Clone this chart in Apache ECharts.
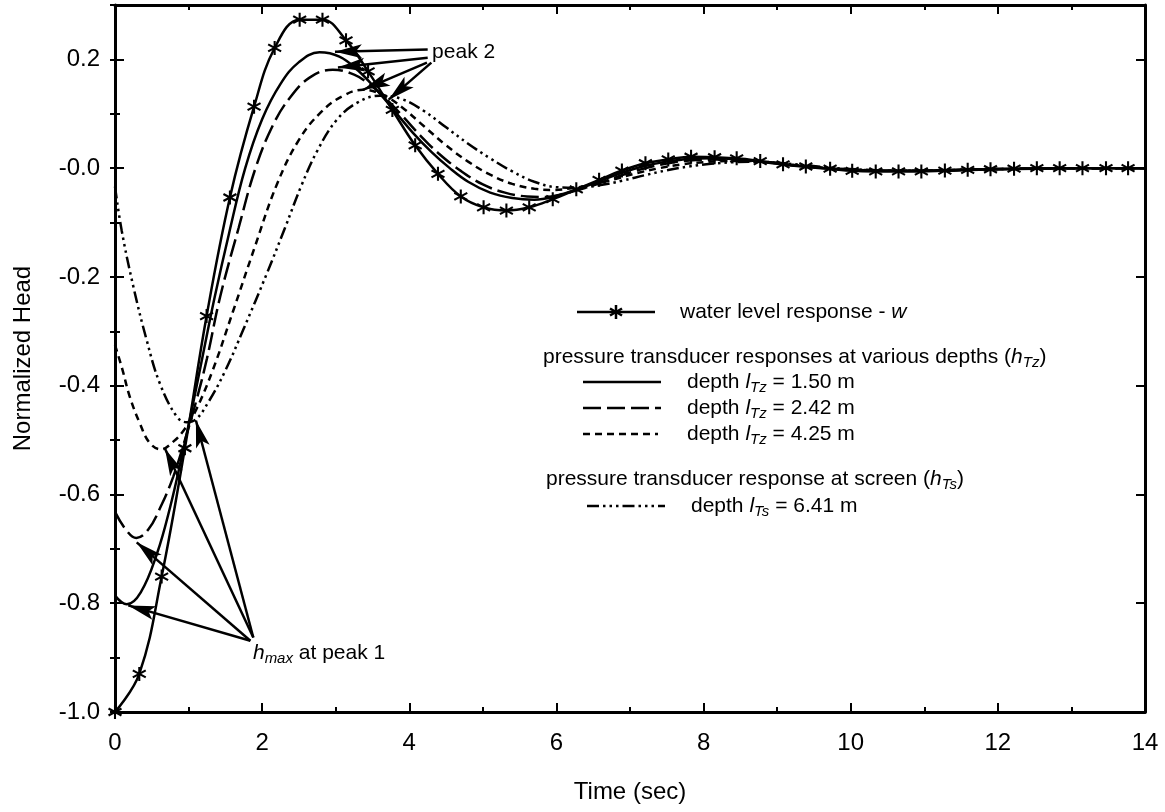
<!DOCTYPE html>
<html>
<head>
<meta charset="utf-8">
<title>Normalized Head vs Time</title>
<script src="https://cdn.jsdelivr.net/npm/echarts@6/dist/echarts.min.js"></script>
<style>
html, body { margin: 0; padding: 0; background: #fff; }
#chart { width: 1165px; height: 812px; }
</style>
</head>
<body>
<div id="chart"></div>
<script>
// water level response w (asterisk markers; the last point only carries the line to the frame)
var wTime = [0, 0.33, 0.634, 0.95, 1.245, 1.562, 1.89, 2.17, 2.51, 2.82, 3.14, 3.44, 3.77, 4.08, 4.39, 4.70, 5.01, 5.32, 5.63, 5.95, 6.27, 6.58, 6.89, 7.21, 7.52, 7.83, 8.15, 8.45, 8.77, 9.08, 9.39, 9.72, 10.02, 10.34, 10.65, 10.96, 11.28, 11.59, 11.90, 12.22, 12.53, 12.84, 13.15, 13.47, 13.77, 14.0];
var wHead = [-1.0, -0.930, -0.751, -0.515, -0.272, -0.054, 0.113, 0.221, 0.273, 0.273, 0.235, 0.178, 0.107, 0.042, -0.0105, -0.052, -0.072, -0.078, -0.072, -0.057, -0.039, -0.0215, -0.0044, 0.009, 0.016, 0.021, 0.020, 0.018, 0.013, 0.007, 0.003, -0.001, -0.005, -0.006, -0.006, -0.006, -0.0044, -0.003, -0.002, -0.001, 0, 0, 0, 0, 0, 0];

// transducer, depth 1.50 m (solid)
var p150Time = [0, 0.16, 0.35, 0.57, 0.75, 0.9, 1.05, 1.2, 1.35, 1.55, 1.77, 2.0, 2.25, 2.5, 2.78, 3.05, 3.3, 3.55, 3.8, 4.05, 4.3, 4.55, 4.8, 5.1, 5.4, 5.7, 6.0, 6.3, 6.6, 6.9, 7.2, 7.5, 7.8, 8.1, 8.4, 8.7, 9.0, 9.4, 9.8, 10.2, 10.6, 11.0, 11.5, 12.0, 12.5, 13.0, 14.0];
var p150Head = [-0.786, -0.802, -0.78, -0.709, -0.623, -0.535, -0.44, -0.34, -0.24, -0.12, 0.0, 0.09, 0.155, 0.195, 0.213, 0.205, 0.18, 0.145, 0.105, 0.065, 0.03, 0.0, -0.025, -0.045, -0.055, -0.058, -0.051, -0.038, -0.023, -0.008, 0.004, 0.012, 0.017, 0.018, 0.017, 0.013, 0.008, 0.002, -0.002, -0.004, -0.005, -0.005, -0.004, -0.002, -0.001, 0.0, 0.0];

// transducer, depth 2.42 m (long dash)
var p242Time = [0, 0.15, 0.29, 0.45, 0.63, 0.79, 0.95, 1.1, 1.25, 1.43, 1.68, 1.91, 2.15, 2.38, 2.65, 2.96, 3.25, 3.45, 3.64, 3.9, 4.15, 4.4, 4.7, 5.0, 5.3, 5.6, 5.85, 6.1, 6.4, 6.7, 7.0, 7.3, 7.6, 7.9, 8.3, 8.7, 9.0, 9.4, 9.8, 10.2, 10.7, 11.2, 11.8, 12.5, 13.0, 14.0];
var p242Head = [-0.632, -0.665, -0.680, -0.665, -0.62, -0.568, -0.50, -0.43, -0.35, -0.236, -0.11, 0.0, 0.08, 0.13, 0.167, 0.181, 0.172, 0.155, 0.133, 0.097, 0.06, 0.027, -0.005, -0.03, -0.045, -0.052, -0.053, -0.047, -0.036, -0.022, -0.008, 0.003, 0.011, 0.015, 0.016, 0.013, 0.009, 0.003, -0.001, -0.004, -0.005, -0.004, -0.002, -0.001, 0, 0];

// transducer, depth 4.25 m (short dash)
var p425Time = [0, 0.1, 0.2, 0.34, 0.47, 0.62, 0.8, 0.95, 1.1, 1.33, 1.6, 1.9, 2.2, 2.5, 2.8, 3.1, 3.37, 3.64, 3.9, 4.2, 4.5, 4.8, 5.1, 5.4, 5.7, 5.95, 6.2, 6.5, 6.8, 7.1, 7.4, 7.7, 8.0, 8.3, 8.6, 8.9, 9.3, 9.7, 10.1, 10.6, 11.2, 11.8, 12.5, 13.0, 14.0];
var p425Head = [-0.325, -0.37, -0.42, -0.47, -0.505, -0.517, -0.502, -0.479, -0.445, -0.371, -0.265, -0.145, -0.03, 0.052, 0.103, 0.133, 0.144, 0.135, 0.112, 0.077, 0.042, 0.012, -0.012, -0.029, -0.038, -0.040, -0.037, -0.030, -0.020, -0.009, 0.0, 0.007, 0.011, 0.013, 0.013, 0.011, 0.005, 0.0, -0.003, -0.005, -0.004, -0.002, -0.001, 0, 0];

// transducer at screen, depth 6.41 m (dash-dot-dot-dot)
var p641Time = [0, 0.09, 0.25, 0.43, 0.61, 0.84, 0.97, 1.1, 1.27, 1.49, 1.75, 2.06, 2.31, 2.54, 2.75, 3.01, 3.3, 3.6, 3.9, 4.2, 4.5, 4.8, 5.1, 5.4, 5.7, 6.0, 6.3, 6.6, 6.9, 7.2, 7.5, 7.8, 8.1, 8.4, 8.7, 9.0, 9.4, 9.8, 10.2, 10.7, 11.2, 11.8, 12.5, 13.0, 14.0];
var p641Head = [-0.034, -0.114, -0.218, -0.316, -0.396, -0.457, -0.467, -0.462, -0.43, -0.375, -0.295, -0.195, -0.11, -0.03, 0.032, 0.088, 0.121, 0.133, 0.127, 0.105, 0.075, 0.045, 0.018, -0.006, -0.025, -0.035, -0.036, -0.031, -0.023, -0.013, -0.004, 0.003, 0.008, 0.011, 0.012, 0.010, 0.005, 0.0, -0.003, -0.005, -0.004, -0.002, -0.001, 0, 0];

// tick labels
var xTickLabels = ['0', '2', '4', '6', '8', '10', '12', '14'];
var yTickLabels = ['-1.0', '-0.8', '-0.6', '-0.4', '-0.2', '-0.0', '0.2'];

// annotation arrows: [from, to] in data units
var peak2Arrows = [
  [[4.25, 0.218], [2.99, 0.214]],
  [[4.25, 0.203], [3.03, 0.185]],
  [[4.24, 0.194], [3.37, 0.144]],
  [[4.30, 0.194], [3.72, 0.126]]
];
var peak1Arrows = [
  [[1.84, -0.869], [0.18, -0.804]],
  [[1.84, -0.869], [0.295, -0.688]],
  [[1.88, -0.863], [0.68, -0.516]],
  [[1.88, -0.863], [1.10, -0.464]]
];

var FONT = 'Liberation Sans, Arial, Helvetica, sans-serif';
var ASTER = 'path://M8.6 0 L11.4 0 L11.4 20 L8.6 20 Z M0.6 6.3 L2.0 3.7 L19.4 13.7 L18.0 16.3 Z M2.0 16.3 L0.6 13.7 L18.0 3.7 L19.4 6.3 Z';
var DASH_LONG = [18, 6];
var DASH_SHORT = [7, 5];
var DASH_DOTS = [12, 4, 2.5, 4, 2.5, 4, 2.5, 4];
var LW = 2.5;

function pairs(t, h) {
  return t.map(function (x, i) { return [x, h[i]]; });
}

function yLabel(v) {
  var k = Math.round((v + 1.0) / 0.2);
  if (Math.abs(-1.0 + k * 0.2 - v) > 1e-6) return '';
  return yTickLabels[k] || '';
}

function xLabel(v) {
  var k = Math.round(v / 2);
  return xTickLabels[k] || '';
}

var axisLineStyle = { color: '#000', width: 3 };
var tickStyle = { color: '#000', width: 2 };

var wData = pairs(wTime, wHead).map(function (p, i) {
  return i === wTime.length - 1 ? { value: p, symbol: 'none' } : p;
});

var allArrows = peak2Arrows.concat(peak1Arrows);

var chart = echarts.init(document.getElementById('chart'));

var option = {
  animation: false,
  backgroundColor: '#fff',
  grid: { left: 115, right: 20, top: 5, bottom: 100 },
  xAxis: [
    {
      type: 'value', position: 'bottom', min: 0, max: 14, interval: 2,
      name: 'Time (sec)', nameLocation: 'middle', nameGap: 68,
      nameTextStyle: { fontFamily: FONT, fontSize: 24, color: '#000' },
      axisLine: { onZero: false, lineStyle: axisLineStyle },
      axisTick: { inside: true, length: 9, lineStyle: tickStyle },
      minorTick: { show: true, splitNumber: 2, length: 5, lineStyle: tickStyle },
      axisLabel: { margin: 19, fontFamily: FONT, fontSize: 24, color: '#000', formatter: xLabel },
      splitLine: { show: false }
    },
    {
      type: 'value', position: 'top', min: 0, max: 14, interval: 2,
      axisLine: { onZero: false, lineStyle: axisLineStyle },
      axisTick: { inside: true, length: 9, lineStyle: tickStyle },
      minorTick: { show: true, splitNumber: 2, length: 5, lineStyle: tickStyle },
      axisLabel: { show: false },
      splitLine: { show: false }
    }
  ],
  yAxis: [
    {
      type: 'value', position: 'left', min: -1.0, max: 0.3, interval: 0.2,
      name: 'Normalized Head', nameLocation: 'middle', nameGap: 80,
      nameTextStyle: { fontFamily: FONT, fontSize: 24, color: '#000' },
      axisLine: { onZero: false, lineStyle: axisLineStyle },
      axisTick: { inside: true, length: 9, lineStyle: tickStyle },
      axisLabel: { margin: 15, fontFamily: FONT, fontSize: 24, color: '#000', formatter: yLabel },
      splitLine: { show: false }
    },
    {
      type: 'value', position: 'left', min: -1.0, max: 0.3, interval: 0.1,
      axisLine: { show: false },
      axisTick: { inside: true, length: 5, lineStyle: tickStyle },
      axisLabel: { show: false },
      splitLine: { show: false }
    },
    {
      type: 'value', position: 'right', min: -1.0, max: 0.3, interval: 0.2,
      axisLine: { onZero: false, lineStyle: axisLineStyle },
      axisTick: { inside: true, length: 9, lineStyle: tickStyle },
      axisLabel: { show: false },
      splitLine: { show: false }
    },
    {
      type: 'value', position: 'right', min: -1.0, max: 0.3, interval: 0.1,
      axisLine: { show: false },
      axisTick: { inside: true, length: 5, lineStyle: tickStyle },
      axisLabel: { show: false },
      splitLine: { show: false }
    }
  ],
  series: [
    {
      name: 'depth 6.41 m', type: 'line', smooth: 0.4, symbol: 'none',
      data: pairs(p641Time, p641Head),
      lineStyle: { color: '#000', width: LW, type: DASH_DOTS }
    },
    {
      name: 'depth 4.25 m', type: 'line', smooth: 0.4, symbol: 'none',
      data: pairs(p425Time, p425Head),
      lineStyle: { color: '#000', width: LW, type: DASH_SHORT }
    },
    {
      name: 'depth 2.42 m', type: 'line', smooth: 0.4, symbol: 'none',
      data: pairs(p242Time, p242Head),
      lineStyle: { color: '#000', width: LW, type: DASH_LONG }
    },
    {
      name: 'depth 1.50 m', type: 'line', smooth: 0.4, symbol: 'none',
      data: pairs(p150Time, p150Head),
      lineStyle: { color: '#000', width: LW, type: 'solid' }
    },
    {
      name: 'water level response - w', type: 'line', smooth: 0.4,
      symbol: ASTER, symbolSize: 14, showAllSymbol: true,
      data: wData,
      itemStyle: { color: '#000' },
      lineStyle: { color: '#000', width: LW },
      z: 5
    },
    {
      name: 'arrows', type: 'line', data: [],
      markLine: {
        silent: true,
        symbol: ['none', 'none'],
        label: { show: false },
        lineStyle: { color: '#000', width: 2.5, type: 'solid' },
        data: allArrows.map(function (a) {
          return [{ coord: a[0] }, { coord: a[1] }];
        })
      },
      z: 6
    }
  ]
};

chart.setOption(option);

// rich text styles for the italic symbols and subscripts
var rich = {
  n: { fontFamily: FONT, fontSize: 21, color: '#000' },
  i: { fontFamily: FONT, fontSize: 21, fontStyle: 'italic', color: '#000' },
  s: { fontFamily: FONT, fontSize: 15, fontStyle: 'italic', color: '#000', padding: [12, 0, 0, 0] }
};

function txt(x, y, text) {
  return {
    type: 'text', x: x, y: y, z: 10,
    style: { text: text, rich: rich, verticalAlign: 'middle', align: 'left', fill: '#000', font: '21px ' + FONT }
  };
}

function seg(x1, y1, x2, y2, dash) {
  return {
    type: 'line', z: 10,
    shape: { x1: x1, y1: y1, x2: x2, y2: y2 },
    style: { stroke: '#000', lineWidth: LW, lineDash: dash || null }
  };
}

function toPx(p) {
  return chart.convertToPixel({ xAxisIndex: 0, yAxisIndex: 0 }, p);
}

// filled arrow head at the end of an arrow, tip on the target point
function arrowHead(a) {
  var s = toPx(a[0]), e = toPx(a[1]);
  var dx = e[0] - s[0], dy = e[1] - s[1];
  var len = Math.sqrt(dx * dx + dy * dy);
  var ux = dx / len, uy = dy / len, nx = -uy, ny = ux;
  var L = 27, W = 7, N = 21;
  return {
    type: 'polygon', z: 12,
    shape: { points: [
      [e[0], e[1]],
      [e[0] - ux * L + nx * W, e[1] - uy * L + ny * W],
      [e[0] - ux * N, e[1] - uy * N],
      [e[0] - ux * L - nx * W, e[1] - uy * L - ny * W]
    ] },
    style: { fill: '#000' }
  };
}

var p2 = toPx([4.31, 0.214]);
var p1 = toPx([1.875, -0.891]);

// legend asterisk centre
var ax = 616, ay = 312;

var graphics = allArrows.map(arrowHead).concat([
  txt(p2[0], p2[1], '{n|peak 2}'),
  txt(p1[0], p1[1], '{i|h}{s|max}{n| at peak 1}'),
  // legend
  seg(577, ay, 655, ay),
  seg(ax, ay - 7, ax, ay + 7),
  seg(ax - 6, ay - 3.5, ax + 6, ay + 3.5),
  seg(ax - 6, ay + 3.5, ax + 6, ay - 3.5),
  txt(680, 312, '{n|water level response - }{i|w}'),
  txt(543, 357, '{n|pressure transducer responses at various depths (}{i|h}{s|Tz}{n|)}'),
  seg(583, 382, 661, 382),
  txt(687, 382, '{n|depth }{i|l}{s|Tz}{n| = 1.50 m}'),
  seg(583, 408, 661, 408, DASH_LONG),
  txt(687, 408, '{n|depth }{i|l}{s|Tz}{n| = 2.42 m}'),
  seg(583, 434, 658, 434, DASH_SHORT),
  txt(687, 434, '{n|depth }{i|l}{s|Tz}{n| = 4.25 m}'),
  txt(546, 479, '{n|pressure transducer response at screen (}{i|h}{s|Ts}{n|)}'),
  seg(587, 506, 665, 506, DASH_DOTS),
  txt(691, 506, '{n|depth }{i|l}{s|Ts}{n| = 6.41 m}')
]);

chart.setOption({ graphic: graphics });
</script>
</body>
</html>
